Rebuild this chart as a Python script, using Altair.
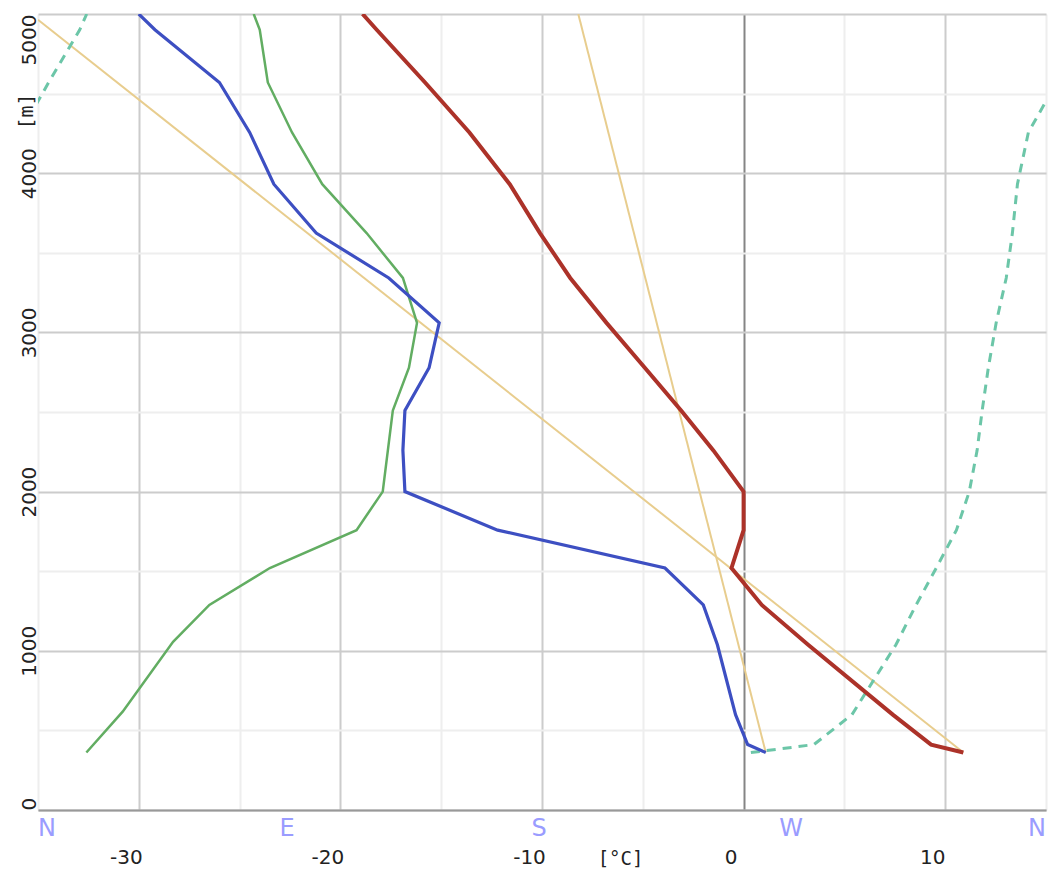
import altair as alt
import pandas as pd

# ---- data ----
blue_alt = [361, 411, 599, 1038, 1288, 1520, 1758, 2000, 2259, 2509, 2778, 3060, 3342, 3624, 3931, 4256, 4570, 4901, 5000]
blue_t = [1.1, 0.2, -0.4, -1.3, -2.0, -3.9, -12.2, -16.8, -16.9, -16.8, -15.6, -15.1, -17.6, -21.2, -23.3, -24.5, -26.0, -29.2, -30.0]

green_alt = [361, 618, 1056, 1288, 1520, 1758, 2000, 2509, 2778, 3060, 3342, 3624, 3931, 4256, 4570, 4901, 5000]
green_t = [-32.6, -30.8, -28.3, -26.5, -23.5, -19.2, -17.9, -17.4, -16.6, -16.2, -16.9, -18.7, -20.9, -22.4, -23.6, -24.0, -24.3]

red_alt = [361, 411, 599, 1038, 1288, 1520, 1758, 2000, 2259, 2509, 2778, 3060, 3342, 3624, 3931, 4256, 4570, 4901, 5000]
red_t = [10.9, 9.3, 7.4, 3.2, 0.9, -0.6, 0.0, 0.0, -1.5, -3.1, -4.9, -6.8, -8.6, -10.1, -11.6, -13.6, -15.8, -18.2, -18.9]

dry_alt = [361, 4964]
dry_t = [10.9, -35.0]
mix_alt = [361, 5000]
mix_t = [1.1, -8.2]

wind_alt = [361, 411, 599, 1038, 1288, 1520, 1758, 2000, 2259, 2509, 2778, 3060, 3342, 3624, 3931, 4256, 4570, 4901, 5000]
wind_dir = [254.6, 277.1, 290.7, 306.4, 313.6, 320.8, 328.0, 332.6, 335.4, 337.2, 339.4, 342.2, 345.8, 348.0, 349.8, 353.7, 3.8, 14.9, 17.4]

compass_labels = ["N", "E", "S", "W", "N"]
compass_dir = [0, 90, 180, 270, 360]

x_ticks = list(range(-35, 16, 5))
y_ticks = list(range(0, 5001, 500))

T_MIN, T_MAX = -35, 15
W, H = 1008, 796


def dir_to_t(d):
    return d / 360.0 * (T_MAX - T_MIN) + T_MIN


def series(alts, temps, name):
    return pd.DataFrame({"alt": alts, "t": temps, "s": name, "i": range(len(alts))})


# wind direction line, split where it wraps past north
rows = []
seg = 0
for k, (a, d) in enumerate(zip(wind_alt, wind_dir)):
    if k > 0:
        prev = wind_dir[k - 1]
        if prev - d > 180:
            rows.append({"alt": a, "t": dir_to_t(d + 360), "seg": seg, "i": len(rows)})
            seg += 1
            rows.append({"alt": wind_alt[k - 1], "t": dir_to_t(prev - 360), "seg": seg, "i": len(rows)})
    rows.append({"alt": a, "t": dir_to_t(d), "seg": seg, "i": len(rows)})
wind_df = pd.DataFrame(rows)

compass_df = pd.DataFrame({"lab": compass_labels, "t": [dir_to_t(d) for d in compass_dir], "k": range(5)})

x_axis = alt.Axis(
    values=x_ticks,
    labelExpr="datum.value % 10 === 0 && datum.value > -35 && datum.value < 15 ? '' + datum.value : ''",
    ticks=False,
    domain=True, domainColor="#999999", domainWidth=2,
    grid=True,
    gridColor={"condition": [{"test": "datum.value === 0", "value": "#858585"},
                             {"test": "datum.value % 10 === 0", "value": "#cccccc"}],
               "value": "#eeeeee"},
    gridWidth=2,
    labelFont="DejaVu Sans", labelFontSize=20, labelColor="#222222",
    labelPadding=37, labelOffset=-13,
    title="[\u00b0C]", titleFont="DejaVu Sans Mono", titleFontSize=19, titleFontWeight="normal",
    titleColor="#222222", titleX=582, titleY=48, titleAlign="center", titleBaseline="middle",
)

y_axis = alt.Axis(
    values=y_ticks,
    labelExpr="datum.value % 1000 === 0 ? '' + datum.value : ''",
    ticks=False, domain=False,
    grid=True,
    gridColor={"condition": {"test": "datum.value % 1000 === 0", "value": "#cccccc"},
               "value": "#eeeeee"},
    gridWidth=2,
    labelAngle=270,
    labelAlign={"condition": [{"test": "datum.value === 5000", "value": "right"},
                              {"test": "datum.value === 0", "value": "left"}],
                "value": "center"},
    labelBaseline="alphabetic",
    labelFont="DejaVu Sans", labelFontSize=20, labelColor="#222222", labelPadding=3,
    title="[m]", titleFont="DejaVu Sans Mono", titleFontSize=20, titleFontWeight="normal",
    titleColor="#222222", titleAngle=270, titleX=-12, titleY=97, titleAlign="center",
    titleBaseline="middle",
)

xs = alt.Scale(domain=[T_MIN, T_MAX], nice=False, zero=False)
ys = alt.Scale(domain=[0, 5000], nice=False, zero=False)


def X():
    return alt.X("t:Q", scale=xs, axis=x_axis)


def Y():
    return alt.Y("alt:Q", scale=ys, axis=y_axis)


dry = alt.Chart(series(dry_alt, dry_t, "dry")).mark_line(color="#e8cd8e", strokeWidth=2, clip=True).encode(
    x=X(), y=Y(), order="i:Q")
mix = alt.Chart(series(mix_alt, mix_t, "mix")).mark_line(color="#e8cd8e", strokeWidth=2, clip=True).encode(
    x=X(), y=Y(), order="i:Q")

wind = alt.Chart(wind_df).mark_line(color="#6cc6a8", strokeWidth=3, strokeDash=[9, 7], clip=True).encode(
    x=X(), y=Y(), detail="seg:N", order="i:Q")

green = alt.Chart(series(green_alt, green_t, "g")).mark_line(color="#62ad62", strokeWidth=2.5, clip=True).encode(
    x=X(), y=Y(), order="i:Q")
blue = alt.Chart(series(blue_alt, blue_t, "b")).mark_line(color="#3d4fc2", strokeWidth=3.2, clip=True).encode(
    x=X(), y=Y(), order="i:Q")
red = alt.Chart(series(red_alt, red_t, "r")).mark_line(color="#ac3229", strokeWidth=4, clip=True).encode(
    x=X(), y=Y(), order="i:Q")

comp_base = alt.Chart(compass_df).encode(x=X(), y=alt.value(H + 19), text="lab:N")
comp_first = comp_base.transform_filter("datum.k === 0").mark_text(
    align="left", baseline="middle", fontSize=24, font="DejaVu Sans", color="#9a9cff")
comp_mid = comp_base.transform_filter("datum.k > 0 && datum.k < 4").mark_text(
    align="center", baseline="middle", dx=-3, fontSize=24, font="DejaVu Sans", color="#9a9cff")
comp_last = comp_base.transform_filter("datum.k === 4").mark_text(
    align="right", baseline="middle", fontSize=24, font="DejaVu Sans", color="#9a9cff")

chart = alt.layer(
    dry, mix, wind, green, blue, red, comp_first, comp_mid, comp_last
).properties(
    width=W, height=H,
    autosize=alt.AutoSizeParams(type="none"),
    padding={"left": 30, "top": 6, "right": 10, "bottom": 68},
    background="white",
).configure_view(stroke=None)

chart.save("out.html", embed_options={"renderer": "svg", "actions": False})
